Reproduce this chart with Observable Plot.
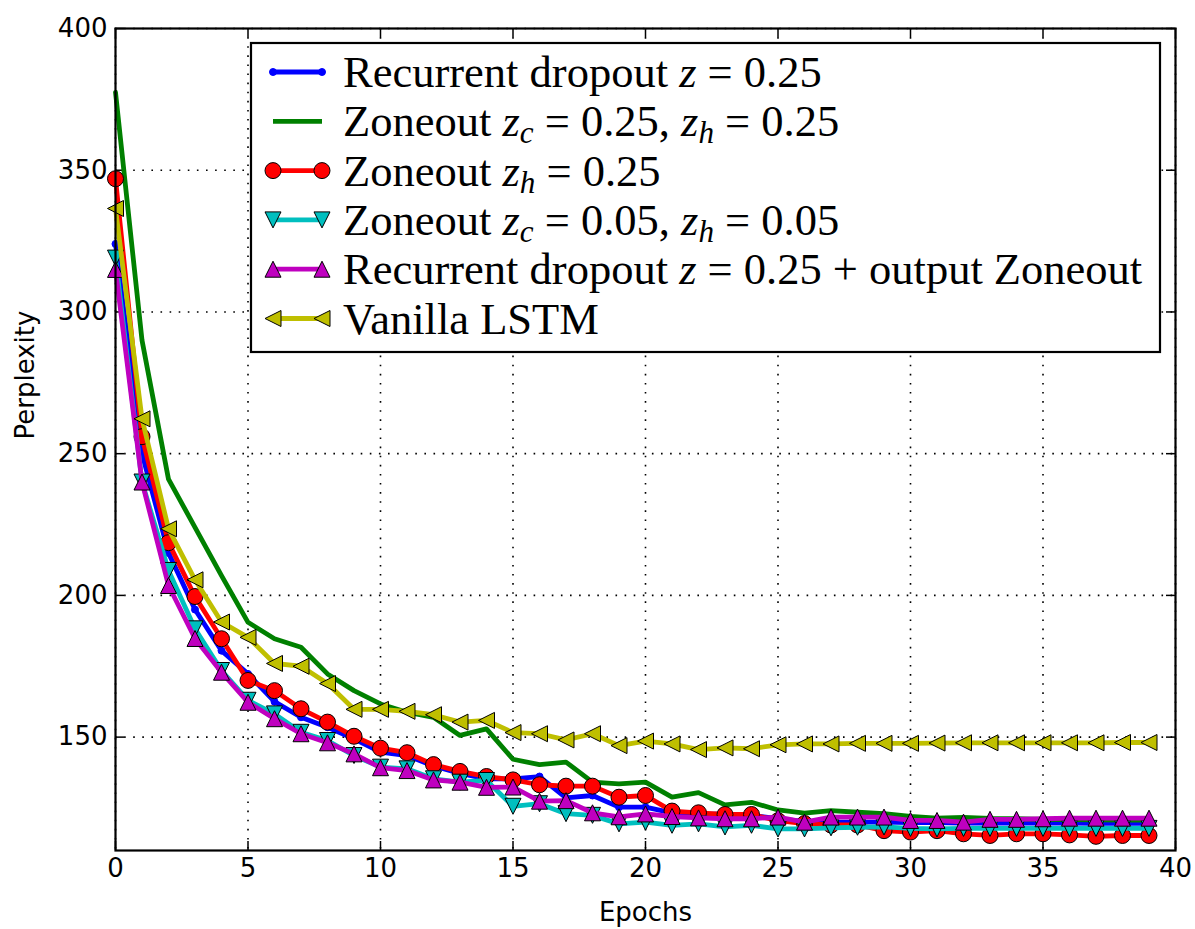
<!DOCTYPE html>
<html>
<head>
<meta charset="utf-8">
<script src="https://cdn.jsdelivr.net/npm/d3@7"></script>
<script src="https://cdn.jsdelivr.net/npm/@observablehq/plot@0.6"></script>
<style>
  html, body { margin: 0; padding: 0; background: white; }
  #chart { width: 1195px; height: 929px; }
</style>
</head>
<body>
<div id="chart"></div>
<script>
// ---------- data ----------
const epochs = [0,1,2,3,4,5,6,7,8,9,10,11,12,13,14,15,16,17,18,19,20,21,22,23,24,25,26,27,28,29,30,31,32,33,34,35,36,37,38,39];

const recurrentDropout = [324, 250, 215, 195, 180.5, 172.3, 162.5, 157, 153.5, 149.4, 144.7, 143.5, 139.8, 137.2, 135.3, 135.3, 136.1, 128.6, 129.4, 125.3, 125.3, 123.3, 122.7, 122.9, 122.4, 121.2, 120.2, 120, 120, 120, 119.8, 119.8, 119.7, 119.7, 119.7, 119.7, 119.7, 119.6, 119.6, 119.6];

const zoneoutBoth25 = [377.5, 290, 241, 224, 207, 190.5, 184.7, 181.7, 172.3, 166.4, 161.7, 158.8, 157, 150.6, 152.9, 142.2, 140.3, 141.2, 134.1, 133.5, 134.1, 128.8, 130.4, 126.1, 127, 124.3, 123.2, 124.1, 123.5, 123, 122, 121.4, 121.7, 121.3, 121.2, 121, 120.9, 120.8, 120.7, 120.7];

const zoneoutH25 = [347, 256, 218.6, 199.6, 184.7, 170, 166.4, 160, 155.3, 150.3, 146.1, 144.5, 140.3, 137.9, 136.1, 134.9, 133.2, 132.7, 132.7, 128.8, 129.4, 123.9, 123.3, 122.7, 122.7, 120.5, 119.5, 119, 119, 117, 116.5, 117, 115.9, 115.3, 115.9, 115.9, 115.5, 115, 115.3, 115.3];

const zoneoutBoth05 = [319, 240, 208.8, 188.2, 173.5, 163, 158.2, 151.7, 148.8, 143.5, 139.4, 138.8, 135.3, 134.1, 134.7, 125.6, 126.5, 123, 122.4, 119.4, 120, 118.9, 119.4, 118.3, 118.9, 117.6, 117.6, 118, 118.2, 118.3, 117.8, 117.6, 117.8, 117.8, 117.8, 117.8, 117.8, 117.8, 117.8, 117.8];

const recurrentPlusOutput = [315, 240, 203.5, 184.8, 172.9, 162.3, 156.5, 151.2, 148, 144.1, 139.2, 138.2, 134.9, 134.1, 132.3, 132.4, 127.4, 127.6, 123.3, 121.9, 122.9, 122, 121.5, 121.2, 121.2, 121.8, 120, 121.8, 121.8, 121.8, 120.6, 120.6, 120, 121, 121, 121.2, 121.4, 121.4, 121.4, 121.4];

const vanillaLSTM = [336.5, 262.3, 223.5, 205.5, 190.6, 185.2, 176, 175, 168.9, 159.8, 159.8, 159.1, 157.9, 155.3, 155.9, 151.6, 151.2, 149, 151.2, 147, 148.6, 147.6, 145.6, 146.2, 145.9, 147.3, 147.6, 147.6, 147.8, 147.8, 147.8, 147.9, 148, 148, 148, 148, 148, 148, 148.1, 148.1];

const xTicks = [0, 5, 10, 15, 20, 25, 30, 35, 40];
const yTicks = [150, 200, 250, 300, 350, 400];

const seriesKeys = ["recurrentDropout", "zoneoutBoth25", "zoneoutH25", "zoneoutBoth05", "recurrentPlusOutput", "vanillaLSTM"];
const seriesValues = [recurrentDropout, zoneoutBoth25, zoneoutH25, zoneoutBoth05, recurrentPlusOutput, vanillaLSTM];
const seriesColors = ["#0000ff", "#008000", "#ff0000", "#00bfbf", "#bf00bf", "#bfbf00"];
const seriesMarkers = ["point", "none", "circle", "triangleDown", "triangleUp", "triangleLeft"];
// legend labels: segments [text, style]  style: "" roman, "i" italic, "s" italic subscript
const seriesLabels = [
  [["Recurrent dropout ", ""], ["z", "i"], [" = 0.25", ""]],
  [["Zoneout ", ""], ["z", "i"], ["c", "s"], [" = 0.25, ", ""], ["z", "i"], ["h", "s"], [" = 0.25", ""]],
  [["Zoneout ", ""], ["z", "i"], ["h", "s"], [" = 0.25", ""]],
  [["Zoneout ", ""], ["z", "i"], ["c", "s"], [" = 0.05, ", ""], ["z", "i"], ["h", "s"], [" = 0.05", ""]],
  [["Recurrent dropout ", ""], ["z", "i"], [" = 0.25 + output Zoneout", ""]],
  [["Vanilla LSTM", ""]]
];
const xLabel = "Epochs";
const yLabel = "Perplexity";

// ---------- symbols (matplotlib-style isoceles triangles) ----------
function tri(dir) {
  return {
    draw(ctx, size) {
      const h = Math.sqrt(size / Math.PI);
      if (dir === "up") { ctx.moveTo(0, -h); ctx.lineTo(h, h); ctx.lineTo(-h, h); }
      else if (dir === "down") { ctx.moveTo(0, h); ctx.lineTo(h, -h); ctx.lineTo(-h, -h); }
      else { ctx.moveTo(-h, 0); ctx.lineTo(h, -h); ctx.lineTo(h, h); }
      ctx.closePath();
    }
  };
}
const symbolMap = {
  point: {symbol: "circle", r: 3.5, strokeSelf: true},
  circle: {symbol: "circle", r: 8},
  triangleUp: {symbol: tri("up"), r: 8},
  triangleDown: {symbol: tri("down"), r: 8},
  triangleLeft: {symbol: tri("left"), r: 8}
};

const rows = [];
seriesKeys.forEach((k, i) => seriesValues[i].forEach((v, j) => rows.push({series: k, epoch: epochs[j], value: v})));

const LW = 4.8;
const seriesMarks = [];
seriesKeys.forEach((k, i) => {
  const data = rows.filter(d => d.series === k);
  seriesMarks.push(Plot.line(data, {x: "epoch", y: "value", stroke: seriesColors[i], strokeWidth: LW, strokeLinejoin: "round"}));
  const m = symbolMap[seriesMarkers[i]];
  if (m) {
    seriesMarks.push(Plot.dot(data, {
      x: "epoch", y: "value", r: m.r, symbol: m.symbol,
      fill: seriesColors[i], stroke: m.strokeSelf ? seriesColors[i] : "black", strokeWidth: 1, fillOpacity: 1
    }));
  }
});

const plotW = 1195, plotH = 929;
const mL = 115, mR = 20, mT = 28, mB = 79;
const innerW = plotW - mL - mR, innerH = plotH - mT - mB;
const tickLen = 9;

const chart = Plot.plot({
  width: plotW, height: plotH,
  marginLeft: mL, marginRight: mR, marginTop: mT, marginBottom: mB,
  style: {fontFamily: "DejaVu Sans", fontSize: "26px", background: "white", color: "black", overflow: "visible"},
  x: {domain: [0, 40]},
  y: {domain: [110, 400]},
  marks: [
    Plot.gridX(xTicks, {stroke: "black", strokeOpacity: 1, strokeWidth: 1.6, strokeDasharray: "1.6,7.5"}),
    Plot.gridY(yTicks, {stroke: "black", strokeOpacity: 1, strokeWidth: 1.6, strokeDasharray: "1.6,7.5"}),
    Plot.axisX(xTicks, {tickSize: 0, tickPadding: 8, label: null, fontSize: 26}),
    Plot.axisY(yTicks, {tickSize: 0, tickPadding: 8, label: null, fontSize: 26}),
    Plot.tickX(xTicks, {x: d => d, insetTop: innerH - tickLen, stroke: "black", strokeWidth: 1.5}),
    Plot.tickX(xTicks, {x: d => d, insetBottom: innerH - tickLen, stroke: "black", strokeWidth: 1.5}),
    Plot.tickY(yTicks, {y: d => d, insetRight: innerW - tickLen, stroke: "black", strokeWidth: 1.5}),
    Plot.tickY(yTicks, {y: d => d, insetLeft: innerW - tickLen, stroke: "black", strokeWidth: 1.5}),
    ...seriesMarks,
    Plot.frame({stroke: "black", strokeWidth: 2.2}),
    Plot.text([xLabel], {frameAnchor: "bottom", dy: 62, text: d => d, fontSize: 26, lineAnchor: "middle"}),
    Plot.text([yLabel], {frameAnchor: "left", dx: -90, text: d => d, fontSize: 26, rotate: -90, lineAnchor: "middle"})
  ]
});
document.getElementById("chart").appendChild(chart);

// ---------- legend (drawn into the plot's svg) ----------
const svg = d3.select(chart.tagName.toLowerCase() === "svg" ? chart : chart.querySelector("svg"));
const lg = {x0: 251, y0: 43, x1: 1160, y1: 352, row0: 72, rowStep: 49.3, sx0: 273, sx1: 322, tx: 343, fs: 44.5};
const g = svg.append("g").attr("class", "legend");
g.append("rect").attr("x", lg.x0).attr("y", lg.y0).attr("width", lg.x1 - lg.x0).attr("height", lg.y1 - lg.y0)
  .attr("fill", "white").attr("stroke", "black").attr("stroke-width", 2.2);
seriesKeys.forEach((k, i) => {
  const cy = lg.row0 + i * lg.rowStep;
  g.append("line").attr("x1", lg.sx0).attr("x2", lg.sx1).attr("y1", cy).attr("y2", cy)
    .attr("stroke", seriesColors[i]).attr("stroke-width", LW);
  const m = symbolMap[seriesMarkers[i]];
  if (m) {
    const type = typeof m.symbol === "string" ? d3.symbolCircle : m.symbol;
    const path = d3.symbol(type, Math.PI * m.r * m.r)();
    [lg.sx0, lg.sx1].forEach(px => {
      g.append("path").attr("d", path).attr("transform", `translate(${px},${cy})`)
        .attr("fill", seriesColors[i]).attr("stroke", m.strokeSelf ? seriesColors[i] : "black").attr("stroke-width", 1);
    });
  }
  const t = g.append("text").attr("x", lg.tx).attr("y", cy + 15).attr("text-anchor", "start")
    .attr("font-family", "'Liberation Serif', 'DejaVu Serif', serif").attr("font-size", lg.fs).attr("fill", "black");
  let shifted = false;
  seriesLabels[i].forEach(([s, st]) => {
    const ts = t.append("tspan").text(s).attr("xml:space", "preserve").style("white-space", "pre");
    if (st === "i" || st === "s") ts.attr("font-style", "italic");
    if (st === "s") { ts.attr("font-size", lg.fs * 0.7).attr("dy", 7); shifted = true; }
    else if (shifted) { ts.attr("dy", -7); shifted = false; }
  });
});
</script>
</body>
</html>
